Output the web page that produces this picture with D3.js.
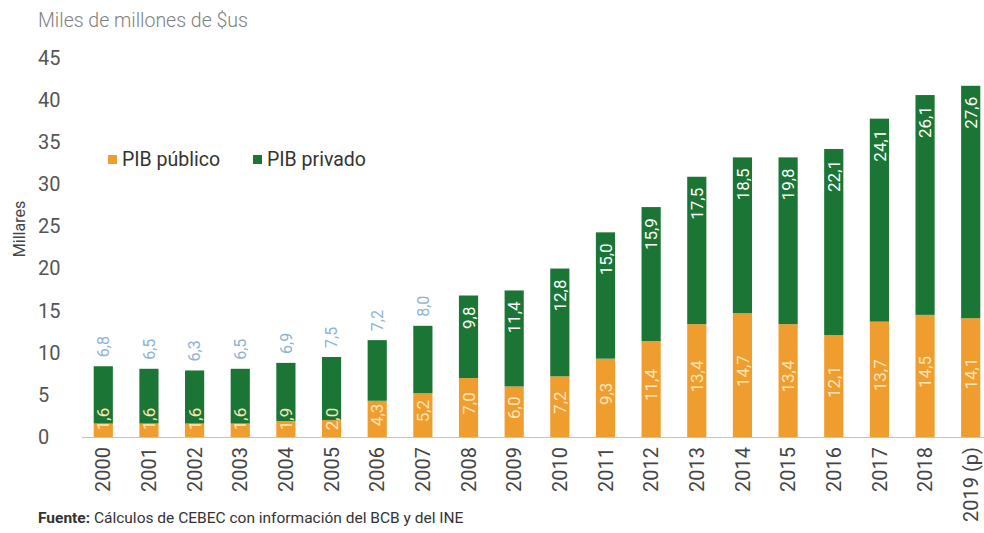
<!DOCTYPE html>
<html>
<head>
<meta charset="utf-8">
<script src="https://cdn.jsdelivr.net/npm/d3@7"></script>
<style>
  html, body { margin: 0; padding: 0; background: #fff; }
  svg { display: block; font-family: Roboto, "Liberation Sans", sans-serif; }
</style>
</head>
<body>
<svg id="chart" width="984" height="533"></svg>
<script>
// PIB público y privado, miles de millones de $us
const years = ["2000","2001","2002","2003","2004","2005","2006","2007","2008","2009",
               "2010","2011","2012","2013","2014","2015","2016","2017","2018","2019 (p)"];
const pibPublico = [1.6,1.6,1.6,1.6,1.9,2.0,4.3,5.2,7.0,6.0,7.2,9.3,11.4,13.4,14.7,13.4,12.1,13.7,14.5,14.1];
const pibPrivado = [6.8,6.5,6.3,6.5,6.9,7.5,7.2,8.0,9.8,11.4,12.8,15.0,15.9,17.5,18.5,19.8,22.1,24.1,26.1,27.6];
const yTicks = [0,5,10,15,20,25,30,35,40,45];
const seriesNames = ["PIB público","PIB privado"];

const colPublico = "#F09D30";
const colPrivado = "#1B7636";

const svg = d3.select("#chart");
const fmt = v => v.toFixed(1).replace(".", ",");

const x = d3.scaleBand().domain(years).range([80, 994]).paddingInner(0.58).paddingOuter(0.3);
const y = d3.scaleLinear().domain([0, 45]).range([437, 58]);

// Título de unidades
svg.append("text").attr("x", 38).attr("y", 27)
  .attr("font-size", 19.5).attr("font-weight", 300).attr("fill", "#808080")
  .text("Miles de millones de $us");

// Título del eje Y
svg.append("text")
  .attr("transform", "translate(25,229) rotate(-90)")
  .attr("text-anchor", "middle").attr("font-size", 16).attr("fill", "#444")
  .text("Millares");

// Eje Y (solo etiquetas)
const yAxis = d3.axisLeft(y).tickValues(yTicks).tickSize(0).tickFormat(d3.format("d"));
const gy = svg.append("g").attr("transform", "translate(38,0)").call(yAxis);
gy.select(".domain").remove();
gy.selectAll("text").attr("x", 0).attr("text-anchor", "start")
  .attr("font-size", 20).attr("fill", "#555").attr("font-family", "Roboto, sans-serif");

// Barras apiladas
const data = years.map((yr, i) => ({ year: yr, pub: pibPublico[i], priv: pibPrivado[i] }));
const bars = svg.append("g");
bars.selectAll("rect.pub").data(data).join("rect").attr("class", "pub")
  .attr("x", d => x(d.year)).attr("width", x.bandwidth())
  .attr("y", d => y(d.pub)).attr("height", d => y(0) - y(d.pub))
  .attr("fill", colPublico);
bars.selectAll("rect.priv").data(data).join("rect").attr("class", "priv")
  .attr("x", d => x(d.year)).attr("width", x.bandwidth())
  .attr("y", d => y(d.pub + d.priv)).attr("height", d => y(d.pub) - y(d.pub + d.priv))
  .attr("fill", colPrivado);

// Línea base
const xAxis = d3.axisBottom(x).tickSize(0);
const gx = svg.append("g").attr("transform", `translate(0,${y(0)})`).call(xAxis);
gx.select(".domain").attr("stroke", "#c4c4c4").attr("stroke-width", 1.2)
  .attr("d", "M82,0.5H984");
gx.selectAll(".tick text")
  .attr("transform", "rotate(-90)")
  .attr("text-anchor", "end")
  .attr("x", -10).attr("y", 0).attr("dy", "0.36em")
  .attr("font-size", 20).attr("fill", "#444").attr("font-family", "Roboto, sans-serif");

// Etiquetas PIB público (centradas en el segmento)
const cx = d => x(d.year) + x.bandwidth() / 2;
svg.append("g").selectAll("text").data(data).join("text")
  .attr("transform", d => {
    const center = (y(0) + y(d.pub)) / 2 - 4;
    const c = Math.min(center, y(0) - 18);
    return `translate(${cx(d)},${c}) rotate(-90)`;
  })
  .attr("text-anchor", "middle").attr("dy", "0.36em")
  .attr("font-size", 17).attr("fill", "#FCE6B8")
  .text(d => fmt(d.pub));

// Etiquetas PIB privado: encima de la barra si es baja, dentro si es alta
svg.append("g").selectAll("text").data(data).join("text")
  .attr("transform", (d, i) => {
    const top = y(d.pub + d.priv);
    return i < 8 ? `translate(${cx(d)},${top - 9}) rotate(-90)`
                 : `translate(${cx(d)},${top + 11}) rotate(-90)`;
  })
  .attr("text-anchor", (d, i) => i < 8 ? "start" : "end")
  .attr("dy", "0.36em")
  .attr("font-size", (d, i) => i < 8 ? 16 : 17)
  .attr("fill", (d, i) => i < 8 ? "#8DB3D2" : "#ffffff")
  .text(d => fmt(d.priv));

// Leyenda
const legend = svg.append("g");
const legX = [108, 253];
seriesNames.forEach((name, i) => {
  legend.append("rect").attr("x", legX[i]).attr("y", 155).attr("width", 9).attr("height", 9)
    .attr("fill", i === 0 ? colPublico : colPrivado);
  legend.append("text").attr("x", legX[i] + 14).attr("y", 166)
    .attr("font-size", 19.5).attr("fill", "#333").text(name);
});

// Fuente
const src = svg.append("text").attr("x", 38).attr("y", 523).attr("font-size", 15.5).attr("fill", "#333");
src.append("tspan").attr("font-weight", "bold").text("Fuente:");
src.append("tspan").text(" Cálculos de CEBEC con información del BCB y del INE");
</script>
</body>
</html>
